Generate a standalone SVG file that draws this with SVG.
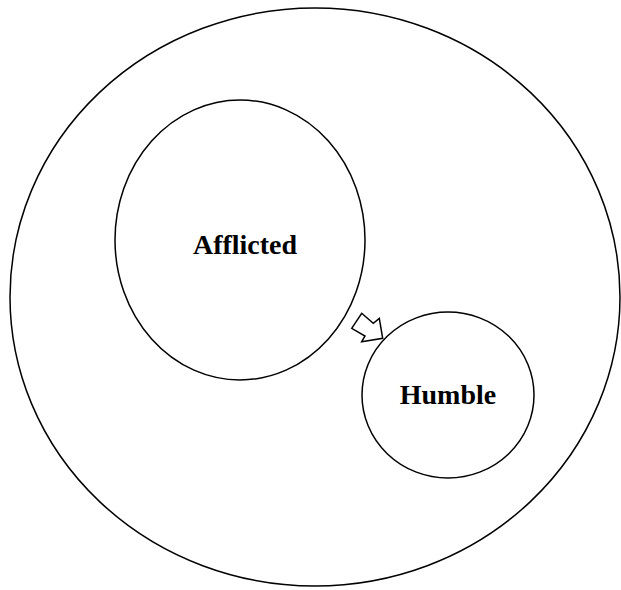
<svg xmlns="http://www.w3.org/2000/svg" width="621" height="590" viewBox="0 0 621 590">
<style>
.c{fill:none;stroke:#000;stroke-width:1.5}
.t{font-family:"Liberation Serif",serif;font-weight:bold;font-size:28px;text-anchor:middle;fill:#000}
</style>
<rect width="621" height="590" fill="#fff"/>
<g id="outer"><ellipse class="c" cx="315" cy="297" rx="305" ry="289"/></g>
<g id="afflicted"><ellipse class="c" cx="240" cy="240" rx="125" ry="140"/><text class="t" x="245" y="254">Afflicted</text></g>
<g id="humble"><ellipse class="c" cx="448" cy="395" rx="86" ry="83"/><text class="t" x="448" y="404">Humble</text></g>
<g id="connectors"><polygon class="c" points="351.7,328.3 361.7,313.3 373.3,323.3 379.3,318.3 382.7,338.3 361.7,341.7 365,336"/></g>
</svg>
